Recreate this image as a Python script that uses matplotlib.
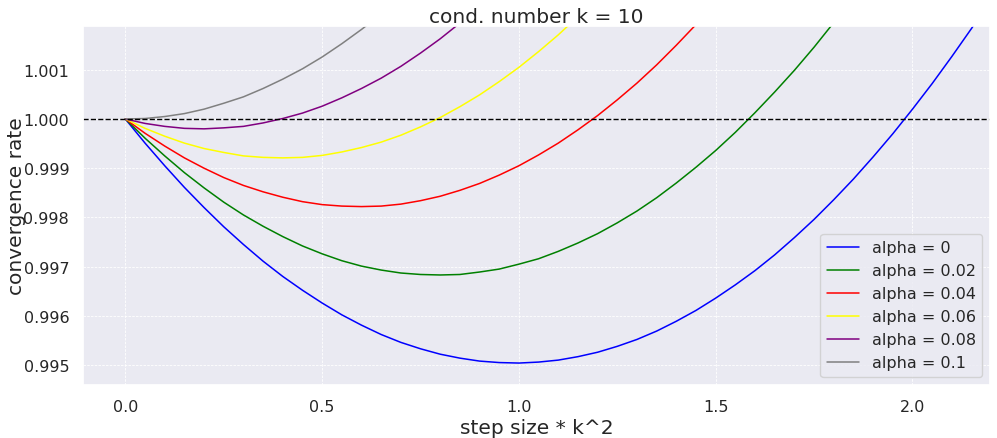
import matplotlib
matplotlib.use("Agg")
import matplotlib.pyplot as plt
from matplotlib.ticker import FormatStrFormatter
import seaborn as sns

sns.set_theme(style="darkgrid")
plt.rcParams['font.family'] = ['DejaVu Sans']

# step size * k^2 (x values shared by all curves, 0.05 apart)
steps = [0.00, 0.05, 0.10, 0.15, 0.20, 0.25, 0.30, 0.35, 0.40, 0.45,
         0.50, 0.55, 0.60, 0.65, 0.70, 0.75, 0.80, 0.85, 0.90, 0.95,
         1.00, 1.05, 1.10, 1.15, 1.20, 1.25, 1.30, 1.35, 1.40, 1.45,
         1.50, 1.55, 1.60, 1.65, 1.70, 1.75, 1.80, 1.85, 1.90, 1.95,
         2.00, 2.05, 2.10, 2.15, 2.20]

# convergence rate, one list per alpha
rate_a0 = [1.0, 0.99951, 0.99905, 0.99861, 0.99820, 0.99781, 0.99745, 0.99711,
           0.99680, 0.99652, 0.99626, 0.99602, 0.99581, 0.99562, 0.99546,
           0.99533, 0.99522, 0.99514, 0.99508, 0.99505, 0.99504, 0.99506,
           0.99510, 0.99517, 0.99526, 0.99538, 0.99552, 0.99569, 0.99589,
           0.99611, 0.99636, 0.99663, 0.99692, 0.99724, 0.99759, 0.99796,
           0.99836, 0.99878, 0.99923, 0.99970, 1.00020, 1.00072, 1.00127,
           1.00184, 1.00244]
rate_a002 = [1.0, 0.99961, 0.99925, 0.99891, 0.99860, 0.99831, 0.99805, 0.99782,
             0.99761, 0.99742, 0.99726, 0.99712, 0.99701, 0.99693, 0.99687,
             0.99684, 0.99683, 0.99684, 0.99689, 0.99695, 0.99705, 0.99716,
             0.99731, 0.99748, 0.99767, 0.99789, 0.99813, 0.99840, 0.99870,
             0.99902, 0.99936, 0.99973, 1.00013, 1.00055, 1.00099, 1.00146,
             1.00196, 1.00248]
rate_a004 = [1.0, 0.99971, 0.99945, 0.99921, 0.99900, 0.99881, 0.99865, 0.99852,
             0.99841, 0.99832, 0.99826, 0.99823, 0.99822, 0.99823, 0.99827,
             0.99834, 0.99843, 0.99855, 0.99869, 0.99886, 0.99905, 0.99927,
             0.99951, 0.99978, 1.00007, 1.00039, 1.00073, 1.00110, 1.00150,
             1.00192, 1.00236]
rate_a006 = [1.0, 0.99981, 0.99965, 0.99951, 0.99940, 0.99932, 0.99925, 0.99922,
             0.99921, 0.99922, 0.99926, 0.99933, 0.99942, 0.99953, 0.99967,
             0.99984, 1.00003, 1.00025, 1.00049, 1.00076, 1.00105, 1.00137,
             1.00171, 1.00208, 1.00247]
rate_a008 = [1.0, 0.99991, 0.99985, 0.99981, 0.99980, 0.99982, 0.99985, 0.99992,
             1.00001, 1.00012, 1.00026, 1.00043, 1.00062, 1.00083, 1.00107,
             1.00134, 1.00163, 1.00195, 1.00229]
rate_a01 = [1.0, 1.00001, 1.00005, 1.00011, 1.00020, 1.00032, 1.00045, 1.00062,
            1.00081, 1.00102, 1.00126, 1.00153, 1.00182, 1.00213]

series = [("alpha = 0", rate_a0, "blue"),
          ("alpha = 0.02", rate_a002, "green"),
          ("alpha = 0.04", rate_a004, "red"),
          ("alpha = 0.06", rate_a006, "yellow"),
          ("alpha = 0.08", rate_a008, "purple"),
          ("alpha = 0.1", rate_a01, "gray")]

fig = plt.figure(figsize=(9.97, 4.39), dpi=100)
ax = fig.add_axes([0.0833, 0.1214, 0.9097, 0.8171])

for label, rate, col in series:
    ax.plot(steps[:len(rate)], rate, color=col, lw=1.1, label=label)

ax.axhline(1.0, color="black", ls="--", lw=1.0)

ax.set_xlim(-0.1075, 2.197)
ax.set_ylim(0.99460, 1.00189)
ax.set_yticks([0.995, 0.996, 0.997, 0.998, 0.999, 1.000, 1.001])
ax.set_xticks([0.0, 0.5, 1.0, 1.5, 2.0])
ax.yaxis.set_major_formatter(FormatStrFormatter('%.3f'))
ax.grid(True, color="white", ls=(0, (3, 1.5)), lw=0.6)
ax.tick_params(labelsize=11.5, pad=4)

ax.set_title("cond. number k = 10", fontsize=14.5, pad=3)
ax.set_xlabel("step size * k^2", fontsize=14.5, labelpad=3)
ax.set_ylabel("convergence rate", fontsize=14.5)
ax.yaxis.set_label_coords(-0.063, 0.5)
ax.legend(loc="lower right", fontsize=11.5)

fig.savefig("out.png", dpi=100)
